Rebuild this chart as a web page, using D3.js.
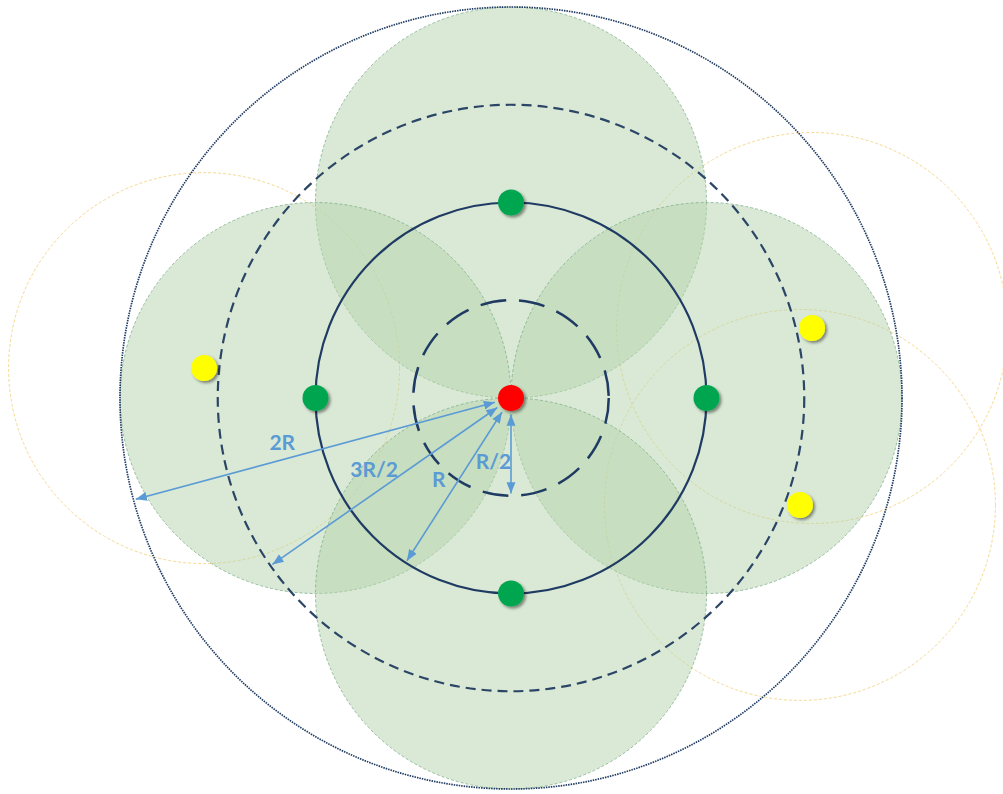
<!DOCTYPE html>
<html>
<head>
<meta charset="utf-8">
<script src="https://cdn.jsdelivr.net/npm/d3@7"></script>
<style>
  body { margin: 0; background: #fff; }
  .lbl { font-family: Lato, "Open Sans", sans-serif; font-weight: bold; font-size: 21px; fill: #5b9bd5; }
</style>
</head>
<body>
<script>
// all positions in units of R, centre = red node, y up
var ringRadii = [0.5, 1, 1.5, 2];
var ringStyles = ["dash", "solid", "dash", "dot"];
var greenNodes = [[0, 1], [-1, 0], [1, 0], [0, -1]];
var yellowNodes = [[-1.57, 0.153], [1.54, 0.358], [1.478, -0.547]];
var redNode = [0, 0];
var arrowLabels = ["R/2", "R", "3R/2", "2R"];
var arrowAngles = [270, 237.4, 214.9, 195.1];
var labelPos = [[-0.09, -0.32], [-0.37, -0.41], [-0.7, -0.36], [-1.17, -0.22]];

var width = 1003, height = 794;
var cx = 511, cy = 398, rpx = 195.5;

var x = d3.scaleLinear().domain([-1, 1]).range([cx - rpx, cx + rpx]);
var y = d3.scaleLinear().domain([-1, 1]).range([cy + rpx, cy - rpx]);
var r = d3.scaleLinear().domain([0, 1]).range([0, rpx]);

var svg = d3.select("body").append("svg")
  .attr("width", width)
  .attr("height", height);

var defs = svg.append("defs");

var shadow = defs.append("filter")
  .attr("id", "shadow")
  .attr("x", "-50%").attr("y", "-50%")
  .attr("width", "200%").attr("height", "200%");
shadow.append("feDropShadow")
  .attr("dx", 2).attr("dy", 2)
  .attr("stdDeviation", 1.5)
  .attr("flood-color", "#000")
  .attr("flood-opacity", 0.45);

defs.append("marker")
  .attr("id", "head")
  .attr("viewBox", "0 0 10 10")
  .attr("refX", 10).attr("refY", 5)
  .attr("markerWidth", 7).attr("markerHeight", 7)
  .attr("markerUnits", "strokeWidth")
  .attr("orient", "auto-start-reverse")
  .append("path")
  .attr("d", "M0,1 L10,5 L0,9 Z")
  .attr("fill", "#5b9bd5");

// yellow coverage circles
svg.append("g").selectAll("circle")
  .data(yellowNodes)
  .join("circle")
  .attr("cx", d => x(d[0]))
  .attr("cy", d => y(d[1]))
  .attr("r", r(1))
  .attr("fill", "none")
  .attr("stroke", "#f5d98f")
  .attr("stroke-width", 1)
  .attr("stroke-dasharray", "3,2");

// green coverage circles
svg.append("g").selectAll("circle")
  .data(greenNodes)
  .join("circle")
  .attr("cx", d => x(d[0]))
  .attr("cy", d => y(d[1]))
  .attr("r", r(1))
  .attr("fill", "#b5d3ab")
  .attr("fill-opacity", 0.5)
  .attr("stroke", "#7fb08c")
  .attr("stroke-width", 0.8)
  .attr("stroke-dasharray", "3,2");

// rings round the red node
svg.append("g").selectAll("circle")
  .data(ringRadii)
  .join("circle")
  .attr("cx", x(redNode[0]))
  .attr("cy", y(redNode[1]))
  .attr("r", d => r(d))
  .attr("fill", "none")
  .attr("stroke", (d, i) => ringStyles[i] == "dash" && d > 1 ? "#2b4566" : "#1f3b63")
  .attr("stroke-width", (d, i) => ringStyles[i] == "dot" ? 1.7 : (d == 0.5 ? 2.5 : 2.2))
  .attr("stroke-dasharray", function(d, i) {
    if (ringStyles[i] == "solid") return null;
    if (ringStyles[i] == "dot") return "1.5,1";
    return d == 0.5 ? "26,13" : "10,6";
  });

// arrows
var arrowG = svg.append("g");
arrowAngles.forEach(function(a, i) {
  var t = a * Math.PI / 180;
  var r0 = 0.085, r1 = ringRadii[i] - 0.012;
  arrowG.append("line")
    .attr("x1", x(r0 * Math.cos(t)))
    .attr("y1", y(r0 * Math.sin(t)))
    .attr("x2", x(r1 * Math.cos(t)))
    .attr("y2", y(r1 * Math.sin(t)))
    .attr("stroke", "#5b9bd5")
    .attr("stroke-width", 1.6)
    .attr("marker-start", "url(#head)")
    .attr("marker-end", "url(#head)");
});

// nodes
var nodes = svg.append("g").attr("filter", "url(#shadow)");
nodes.selectAll(".g")
  .data(greenNodes)
  .join("circle")
  .attr("cx", d => x(d[0]))
  .attr("cy", d => y(d[1]))
  .attr("r", 13)
  .attr("fill", "#00a64f");
nodes.selectAll(".y")
  .data(yellowNodes)
  .join("circle")
  .attr("cx", d => x(d[0]))
  .attr("cy", d => y(d[1]))
  .attr("r", 13)
  .attr("fill", "#ffff00");
nodes.append("circle")
  .attr("cx", x(redNode[0]))
  .attr("cy", y(redNode[1]))
  .attr("r", 13)
  .attr("fill", "#ff0000");

// labels
svg.append("g").selectAll("text")
  .data(arrowLabels)
  .join("text")
  .attr("class", "lbl")
  .attr("x", (d, i) => x(labelPos[i][0]))
  .attr("y", (d, i) => y(labelPos[i][1]))
  .attr("text-anchor", "middle")
  .attr("dominant-baseline", "central")
  .text(d => d);
</script>
</body>
</html>
